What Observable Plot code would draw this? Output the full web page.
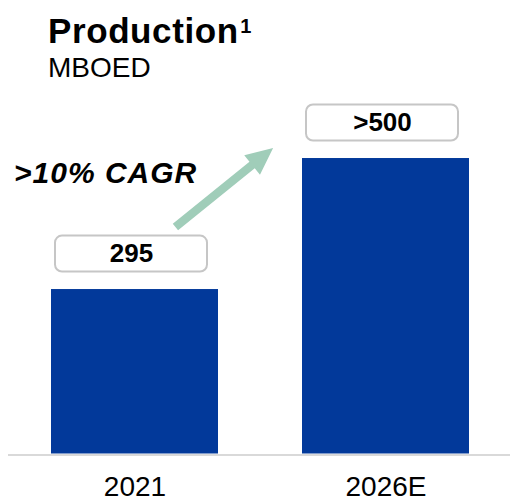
<!DOCTYPE html>
<html>
<head>
<meta charset="utf-8">
<script src="https://cdn.jsdelivr.net/npm/d3@7"></script>
<script src="https://cdn.jsdelivr.net/npm/@observablehq/plot@0.6"></script>
<style>
  html, body { margin: 0; padding: 0; background: #fff; }
  #wrap { position: relative; width: 510px; height: 502px; font-family: "Liberation Sans", Arial, sans-serif; }
  #title { position: absolute; left: 48px; top: 13.2px; font-size: 35px; line-height: 35px; font-weight: bold; color: #000; white-space: nowrap; }
  #title .t { letter-spacing: 0.6px; }
  #title sup { font-size: 20px; vertical-align: 10px; line-height: 0; margin-left: 2px; }
  #subtitle { position: absolute; left: 48px; top: 54px; font-size: 28px; line-height: 28px; color: #000; }
  #chart { position: absolute; left: 0; top: 0; }
</style>
</head>
<body>
<div id="wrap">
  <div id="chart"></div>
  <div id="title"><span class="t">Productio</span>n<sup>1</sup></div>
  <div id="subtitle">MBOED</div>
</div>
<script>
const categories = ["2021", "2026E"];
const values = [295, 530];
const valueLabels = ["295", ">500"];
const cagrLabel = ">10% CAGR";

const data = categories.map((c, i) => ({cat: c, value: values[i], label: valueLabels[i]}));

const barColor = "#02399a";
const arrowColor = "#a0cdb9";

function cagrMark(index, scales, vals, dims) {
  const x = scales.x, y = scales.y;
  const bw = x.bandwidth();
  const x0 = x(categories[0]), x1 = x(categories[1]);
  const g = d3.create("svg:g");
  // arrow from above first bar toward second bar
  const tail = [x0 + bw * 0.745, y(values[0]) - 62];
  const tip = [x1 - bw * 0.173, y(values[1]) - 10];
  const dx = tip[0] - tail[0], dy = tip[1] - tail[1];
  const len = Math.hypot(dx, dy);
  const ux = dx / len, uy = dy / len;
  const headLen = 27, headHalf = 12.5, shaftHalf = 4.2;
  const bx = tip[0] - ux * headLen, by = tip[1] - uy * headLen;
  const px = -uy, py = ux;
  const pts = [
    [tail[0] + px * shaftHalf, tail[1] + py * shaftHalf],
    [bx + px * shaftHalf, by + py * shaftHalf],
    [bx + px * headHalf, by + py * headHalf],
    tip,
    [bx - px * headHalf, by - py * headHalf],
    [bx - px * shaftHalf, by - py * shaftHalf],
    [tail[0] - px * shaftHalf, tail[1] - py * shaftHalf]
  ];
  g.append("path")
    .attr("d", "M" + pts.map(p => p.join(",")).join("L") + "Z")
    .attr("fill", arrowColor);
  g.append("text")
    .attr("x", x0 - 37)
    .attr("y", y(values[0]) - 106)
    .attr("text-anchor", "start")
    .attr("font-size", 30)
    .attr("font-weight", "bold")
    .attr("font-style", "italic")
    .attr("letter-spacing", "1px")
    .attr("fill", "#000")
    .text(cagrLabel);
  return g.node();
}

const plot = Plot.plot({
  width: 510,
  height: 502,
  marginTop: 7.5,
  marginBottom: 48.5,
  marginLeft: 8,
  marginRight: 0,
  style: {fontFamily: "Liberation Sans, Arial, sans-serif", background: "transparent", overflow: "visible"},
  x: {domain: categories, paddingInner: 1/3, paddingOuter: 0.1627, align: 0.512, label: null},
  y: {domain: [0, 800], axis: null},
  marks: [
    Plot.barY(data, {x: "cat", y: "value", fill: barColor}),
    Plot.ruleY([0], {stroke: "#d9d9d9", strokeWidth: 2, dy: 1}),
    Plot.barY(data, {x: "cat", y1: "value", y2: "value", insetTop: -53.5, insetBottom: 17.5, insetLeft: 4, insetRight: 11, rx: 7, fill: "#fff", stroke: "#c6c6c6", strokeWidth: 2}),
    Plot.text(data, {x: "cat", y: "value", text: "label", dy: -35.5, dx: -3.5, fontSize: 26, fontWeight: "bold", fill: "#000"}),
    Plot.axisX({tickSize: 0, tickPadding: 22.5, fontSize: 28, label: null, color: "#000"}),
    cagrMark
  ]
});
document.getElementById("chart").appendChild(plot);
</script>
</body>
</html>
